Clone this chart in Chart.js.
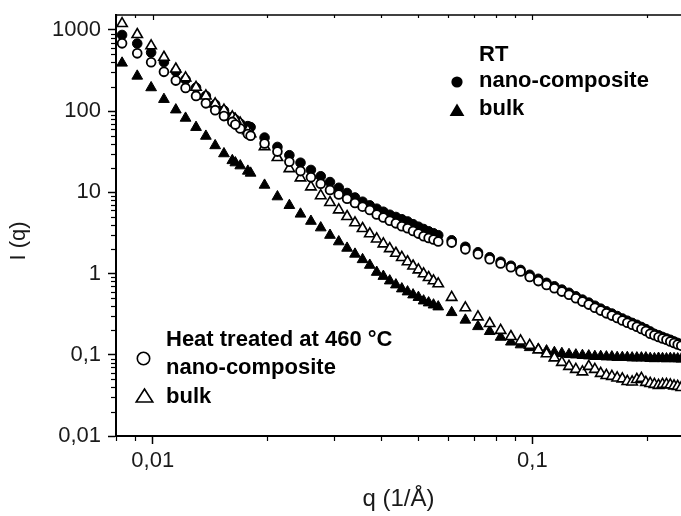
<!DOCTYPE html>
<html>
<head>
<meta charset="utf-8">
<script src="https://cdn.jsdelivr.net/npm/chart.js@4.4.1/dist/chart.umd.min.js"></script>
<style>
  html, body { margin: 0; padding: 0; background: #fff; }
  canvas { display: block; }
</style>
</head>
<body>
<canvas id="myChart" width="681" height="516"></canvas>
<script>
// q values (1/Å) - three measuring ranges, shared by all four series
const q = [
  0.0083, 0.0091, 0.0099, 0.0107, 0.0115, 0.0122, 0.0130, 0.0138, 0.0146, 0.0154, 0.0162, 0.0170, 0.0178,
  0.0165, 0.0181, 0.0197, 0.0213, 0.0229, 0.0245, 0.0261, 0.0277, 0.0293, 0.0309, 0.0325, 0.0341, 0.0357,
  0.0373, 0.0389, 0.0405, 0.0421, 0.0437, 0.0453, 0.0469, 0.0485, 0.0501, 0.0517, 0.0533, 0.0549, 0.0565,
  0.0613, 0.0666, 0.0719, 0.0772, 0.0825, 0.0878, 0.0931, 0.0984, 0.1037, 0.1090, 0.1143, 0.1196, 0.1249,
  0.1302, 0.1355, 0.1408, 0.1461, 0.1514, 0.1567, 0.1620, 0.1673, 0.1726, 0.1779, 0.1832, 0.1885, 0.1938,
  0.1991, 0.2044, 0.2097, 0.2150, 0.2203, 0.2256, 0.2309, 0.2362, 0.2415, 0.2468
]

// RT, nano-composite (filled circles)
const rtNano = [
  868, 681, 528, 403, 308, 245, 195, 154, 121, 102, 84.6, 70.3, 65.5,
  78.8, 63.7, 47.3, 36.3, 28.7, 23.2, 18.9, 15.8, 13.4, 11.4, 9.83, 8.65, 7.68,
  6.92, 6.30, 5.78, 5.31, 4.98, 4.67, 4.39, 4.06, 3.78, 3.54, 3.32, 3.14, 2.97,
  2.57, 2.14, 1.83, 1.59, 1.40, 1.25, 1.11, 0.967, 0.863, 0.770, 0.697, 0.635, 0.580,
  0.525, 0.478, 0.439, 0.402, 0.370, 0.343, 0.322, 0.300, 0.280, 0.263, 0.247, 0.234, 0.220,
  0.207, 0.194, 0.181, 0.174, 0.166, 0.159, 0.153, 0.146, 0.140, 0.134
]

// RT, bulk (filled triangles)
const rtBulk = [
  392, 271, 195, 140, 104, 82.2, 63.3, 49.3, 37.7, 30.0, 24.7, 21.3, 18.3,
  23.2, 17.3, 12.3, 8.85, 6.92, 5.42, 4.42, 3.67, 2.97, 2.47, 2.06, 1.74, 1.49,
  1.27, 1.04, 0.927, 0.815, 0.728, 0.650, 0.597, 0.548, 0.510, 0.462, 0.437, 0.412, 0.390,
  0.332, 0.268, 0.223, 0.194, 0.165, 0.144, 0.133, 0.123, 0.117, 0.112, 0.107, 0.104, 0.101,
  0.0999, 0.0983, 0.0972, 0.0956, 0.0956, 0.0945, 0.0945, 0.0929, 0.0929, 0.0929, 0.0918, 0.0918, 0.0918,
  0.0918, 0.0903, 0.0898, 0.0908, 0.0901, 0.0895, 0.0904, 0.0899, 0.0893, 0.0890
]

// heat treated at 460 °C, nano-composite (open circles)
const htNano = [
  685, 516, 400, 305, 238, 193, 154, 125, 103, 87.0, 73.8, 61.4, 52.2,
  68.4, 50.0, 40.1, 31.8, 23.8, 18.3, 15.4, 12.8, 10.7, 9.45, 8.36, 7.42, 6.68,
  6.07, 5.34, 4.90, 4.47, 4.16, 3.83, 3.62, 3.34, 3.11, 2.89, 2.75, 2.63, 2.49,
  2.41, 1.99, 1.73, 1.50, 1.33, 1.20, 1.06, 0.911, 0.808, 0.726, 0.659, 0.600, 0.548,
  0.497, 0.452, 0.415, 0.380, 0.350, 0.324, 0.304, 0.284, 0.264, 0.248, 0.234, 0.222, 0.208,
  0.196, 0.182, 0.174, 0.166, 0.159, 0.153, 0.146, 0.140, 0.134, 0.129
]

// heat treated at 460 °C, bulk (open triangles)
const htBulk = [
  1200, 880, 639, 462, 331, 257, 197, 154, 123, 103, 85.1, 71.3, 57.7,
  79.2, 52.9, 36.6, 26.9, 19.6, 15.1, 11.7, 9.11, 7.51, 6.10, 5.05, 4.22, 3.59,
  3.09, 2.67, 2.32, 2.03, 1.78, 1.58, 1.40, 1.24, 1.11, 0.995, 0.895, 0.815, 0.749,
  0.510, 0.379, 0.293, 0.243, 0.200, 0.168, 0.148, 0.131, 0.115, 0.103, 0.0916, 0.0806, 0.0720,
  0.0661, 0.0616, 0.0720, 0.0661, 0.0590, 0.0557, 0.0542, 0.0519, 0.0505, 0.0470, 0.0463, 0.0497, 0.0512,
  0.0457, 0.0444, 0.0432, 0.0420, 0.0432, 0.0432, 0.0426, 0.0414, 0.0408, 0.0396
]

const xTickVals = [0.01, 0.1]
const xTickLabels = ['0,01', '0,1']
const yTickVals = [0.01, 0.1, 1, 10, 100, 1000]
const yTickLabels = ['0,01', '0,1', '1', '10', '100', '1000']

const family = '"Liberation Sans", Arial, Helvetica, sans-serif'

const toPoints = ys => q.map((x, i) => ({ x: x, y: ys[i] }))

// minor ticks at 2..9 of every decade inside the range
const minorValues = (min, max) => {
  const out = []
  for (let e = -4; e <= 4; e++) {
    for (let m = 2; m <= 9; m++) {
      const v = m * Math.pow(10, e)
      if (v >= min * 0.999 && v <= max * 1.001) out.push(v)
    }
  }
  return out
}

const circle = (c, x, y, r, filled) => {
  c.beginPath()
  c.arc(x, y, r, 0, Math.PI * 2)
  if (filled) c.fill(); else c.stroke()
}
const triangle = (c, x, top, bottom, half, filled) => {
  c.beginPath()
  c.moveTo(x, top)
  c.lineTo(x + half, bottom)
  c.lineTo(x - half, bottom)
  c.closePath()
  if (filled) c.fill(); else c.stroke()
}

const extras = {
  id: 'extras',
  afterDraw(chart) {
    const c = chart.ctx
    const a = chart.chartArea
    const xs = chart.scales.x
    const ys = chart.scales.y
    c.save()
    c.strokeStyle = '#000'
    c.fillStyle = '#000'

    // top frame line
    c.lineWidth = 1.6
    c.beginPath(); c.moveTo(a.left, a.top); c.lineTo(a.right, a.top); c.stroke()

    // minor ticks
    c.lineWidth = 1.2
    minorValues(xs.min, xs.max).forEach(v => {
      const px = Math.round(xs.getPixelForValue(v)) + 0.5
      c.beginPath(); c.moveTo(px, a.bottom); c.lineTo(px, a.bottom + 5); c.stroke()
      c.beginPath(); c.moveTo(px, a.top); c.lineTo(px, a.top + 3); c.stroke()
    })
    xTickVals.forEach(v => {
      const px = Math.round(xs.getPixelForValue(v)) + 0.5
      c.beginPath(); c.moveTo(px, a.top); c.lineTo(px, a.top + 5); c.stroke()
    })
    minorValues(ys.min, ys.max).forEach(v => {
      const py = Math.round(ys.getPixelForValue(v)) + 0.5
      c.beginPath(); c.moveTo(a.left, py); c.lineTo(a.left - 5, py); c.stroke()
    })

    // y axis title, sits a bit below the middle like the original
    c.save()
    c.fillStyle = '#1a1a1a'
    c.font = '22px ' + family
    c.textAlign = 'center'
    c.textBaseline = 'middle'
    c.translate(19, 241)
    c.rotate(-Math.PI / 2)
    c.fillText('I (q)', 0, 0)
    c.restore()

    // legends
    c.font = 'bold 22px ' + family
    c.textBaseline = 'alphabetic'
    c.textAlign = 'left'
    c.fillText('RT', 479, 60.5)
    c.fillText('nano-composite', 479, 87)
    c.fillText('bulk', 479, 115)
    circle(c, 457, 82, 5.6, true)
    triangle(c, 457, 103.5, 116, 7.4, true)

    c.fillText('Heat treated at 460 °C', 166, 346)
    c.fillText('nano-composite', 166, 373.5)
    c.fillText('bulk', 166, 402.5)
    c.lineWidth = 1.6
    circle(c, 143.5, 358.5, 6.2, false)
    triangle(c, 144.5, 389, 402, 8.3, false)

    c.restore()
  }
}

const ctx = document.getElementById('myChart')
const myChart = new Chart(ctx, {
  type: 'scatter',
  data: {
    datasets: [
      {
        label: 'Heat treated at 460 °C nano-composite',
        data: toPoints(htNano),
        pointStyle: 'circle',
        pointRadius: 4.4,
        pointBorderWidth: 1.8,
        pointBorderColor: '#000',
        pointBackgroundColor: '#fff'
      },
      {
        label: 'Heat treated at 460 °C bulk',
        data: toPoints(htBulk),
        pointStyle: 'triangle',
        pointRadius: 6,
        pointBorderWidth: 1.6,
        pointBorderColor: '#000',
        pointBackgroundColor: '#fff'
      },
      {
        label: 'RT nano-composite',
        data: toPoints(rtNano),
        pointStyle: 'circle',
        pointRadius: 4.8,
        pointBorderWidth: 1,
        pointBorderColor: '#000',
        pointBackgroundColor: '#000'
      },
      {
        label: 'RT bulk',
        data: toPoints(rtBulk),
        pointStyle: 'triangle',
        pointRadius: 6.2,
        pointBorderWidth: 1,
        pointBorderColor: '#000',
        pointBackgroundColor: '#000'
      }
    ]
  },
  options: {
    responsive: false,
    animation: false,
    devicePixelRatio: 1,
    layout: { autoPadding: false, padding: { top: 15, right: 0, bottom: 0, left: 0 } },
    plugins: {
      legend: { display: false },
      tooltip: { enabled: false }
    },
    scales: {
      x: {
        type: 'logarithmic',
        min: 0.008,
        max: 0.2464,
        afterBuildTicks: s => { s.ticks = xTickVals.map(v => ({ value: v })) },
        afterFit: s => { s.height = 80; s.paddingLeft = 0; s.paddingRight = 0 },
        ticks: {
          autoSkip: false,
          maxRotation: 0,
          padding: 4,
          color: '#1a1a1a',
          font: { size: 22, family: family },
          callback: (v, i) => xTickLabels[i]
        },
        grid: { drawOnChartArea: false, tickLength: 8, tickWidth: 1.5, tickColor: '#000' },
        border: { display: true, color: '#000', width: 2 },
        title: {
          display: true,
          text: 'q (1/Å)',
          color: '#1a1a1a',
          font: { size: 24, family: family },
          padding: { top: 0, bottom: 2 }
        }
      },
      y: {
        type: 'logarithmic',
        min: 0.01,
        max: 1530,
        afterBuildTicks: s => { s.ticks = yTickVals.map(v => ({ value: v })) },
        afterFit: s => { s.width = 116; s.paddingTop = 0; s.paddingBottom = 0 },
        ticks: {
          autoSkip: false,
          padding: 7,
          color: '#1a1a1a',
          font: { size: 22, family: family },
          callback: (v, i) => yTickLabels[i]
        },
        grid: { drawOnChartArea: false, tickLength: 8, tickWidth: 1.5, tickColor: '#000' },
        border: { display: true, color: '#000', width: 2 }
      }
    }
  },
  plugins: [extras]
})
</script>
</body>
</html>
